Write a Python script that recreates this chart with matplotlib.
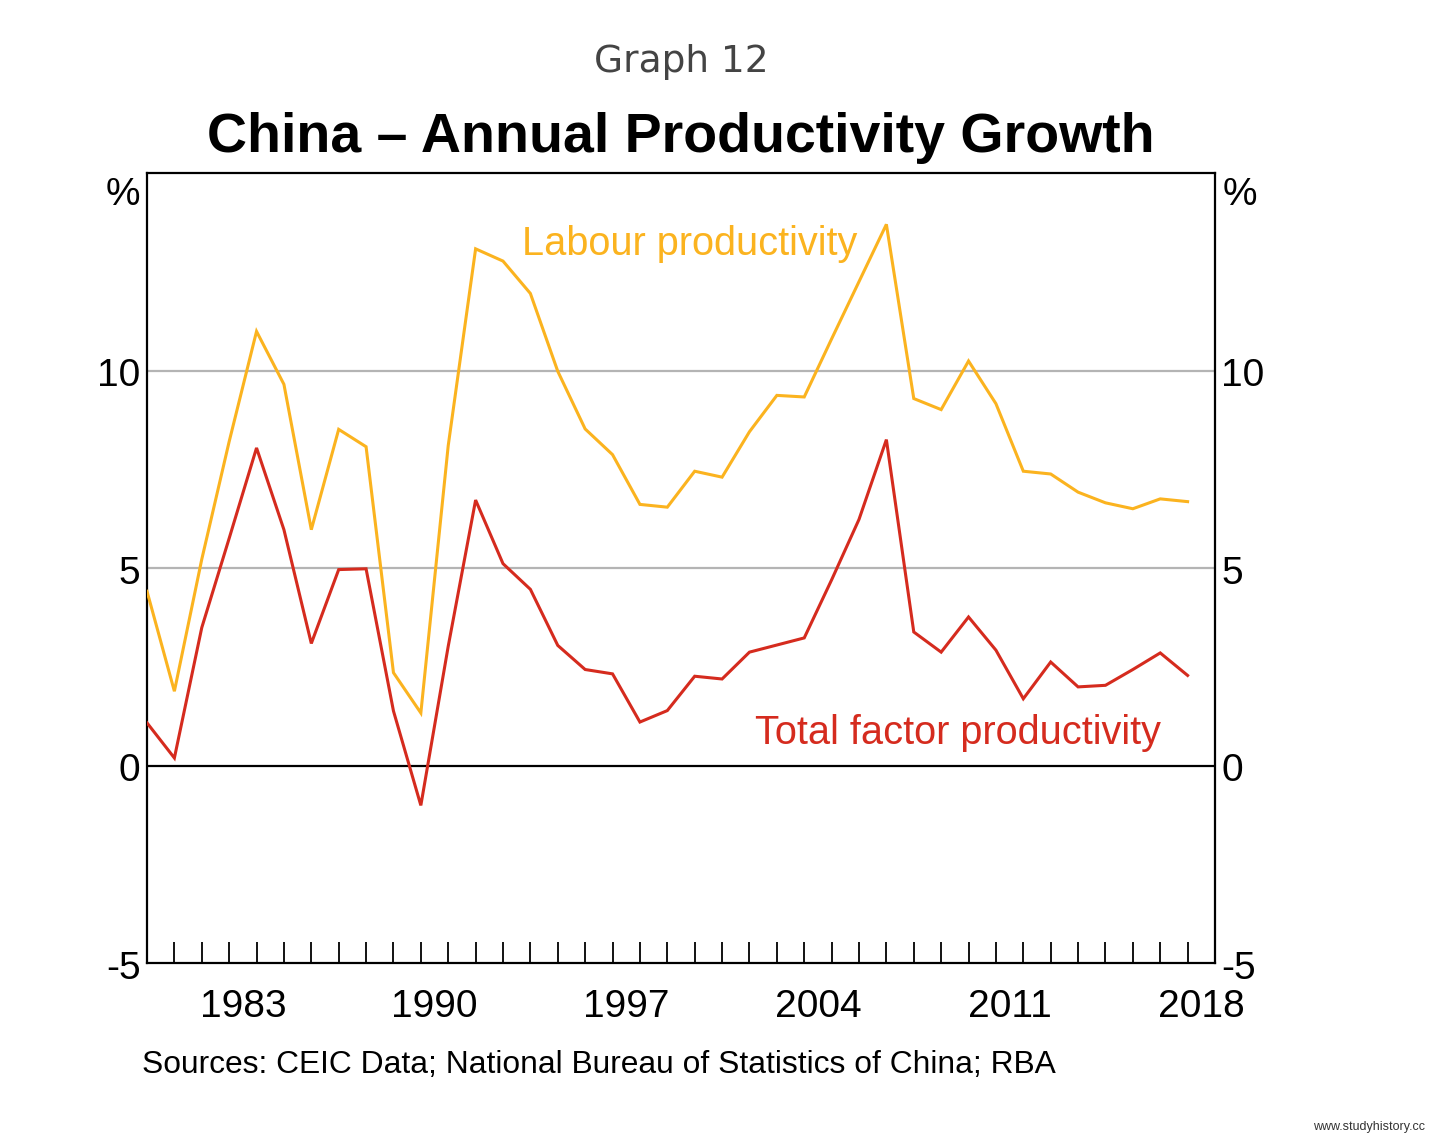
import matplotlib
matplotlib.use("Agg")
import matplotlib.pyplot as plt
import numpy as np

years = list(range(1980, 2019))
labour = [4.41, 1.88, 5.22, 8.2, 10.99, 9.65, 5.97, 8.51, 8.07, 2.35, 1.33,
          8.1, 13.08, 12.77, 11.95, 9.98, 8.52, 7.87, 6.61, 6.54, 7.45,
          7.30, 8.45, 9.37, 9.33, 10.8, 12.25, 13.7, 9.29, 9.01, 10.24,
          9.16, 7.45, 7.38, 6.92, 6.65, 6.50, 6.75, 6.68]
tfp = [1.08, 0.19, 3.49, 5.75, 8.04, 5.97, 3.09, 4.96, 4.98, 1.38, -1.01,
       3.02, 6.72, 5.11, 4.46, 3.04, 2.43, 2.32, 1.10, 1.39, 2.26,
       2.19, 2.87, 3.05, 3.23, 4.7, 6.23, 8.25, 3.38, 2.87, 3.76,
       2.92, 1.69, 2.62, 1.99, 2.03, 2.43, 2.85, 2.28]
year_labels = [1983, 1990, 1997, 2004, 2011, 2018]
y_ticks = [-5, 0, 5, 10]

ORANGE = "#FBB31F"
RED = "#D52B1E"

plt.rcParams['font.family'] = ['Liberation Sans', 'DejaVu Sans']

fig = plt.figure(figsize=(14.4, 11.36), dpi=100)
ax = fig.add_axes([147/1440, 1-963/1136, (1215-147)/1440, (963-173)/1136])

ax.set_xlim(1980, 2019)
ax.set_ylim(-5, 15)

for v in [5, 10]:
    ax.axhline(v, color="#B4B4B4", lw=1.6, zorder=1)
ax.axhline(0, color="black", lw=1.6, zorder=1)

ax.plot(years, labour, color=ORANGE, lw=2.2, zorder=3, solid_joinstyle='miter')
ax.plot(years, tfp, color=RED, lw=2.2, zorder=3, solid_joinstyle='miter')

for s in ax.spines.values():
    s.set_color("black")
    s.set_linewidth(1.6)

# x ticks at year boundaries (inward), labels at mid-year
ax.set_xticks(np.arange(1981, 2019))
ax.tick_params(axis='x', direction='in', length=15, width=1.3, labelbottom=False)
ax.set_yticks([])
for y in year_labels:
    ax.text(y + 0.5, -0.0555, str(y), transform=ax.get_xaxis_transform(),
            ha='center', va='center', fontsize=28)

for v in y_ticks:
    ax.text(-0.006, v - 0.15, str(v), transform=ax.get_yaxis_transform(),
            ha='right', va='center', fontsize=28)
    ax.text(1.006, v - 0.15, str(v), transform=ax.get_yaxis_transform(),
            ha='left', va='center', fontsize=28)
ax.text(-0.023, 14.45, "%", transform=ax.get_yaxis_transform(),
        ha='center', va='center', fontsize=28)
ax.text(1.023, 14.45, "%", transform=ax.get_yaxis_transform(),
        ha='center', va='center', fontsize=28)

ax.text(1999.8, 13.2, "Labour productivity", color=ORANGE, fontsize=28.6,
        ha='center', va='center')
ax.text(2009.6, 0.82, "Total factor productivity", color=RED, fontsize=28.6,
        ha='center', va='center')

fig.text(681/1440, 1-62/1136, "Graph 12", ha='center', va='center',
         fontsize=27, color="#444444", family=['DejaVu Sans'])
fig.text(681/1440, 1-138/1136, "China – Annual Productivity Growth",
         ha='center', va='center', fontsize=40, fontweight='bold')
fig.text(142/1440, 1-1065/1136,
         "Sources: CEIC Data; National Bureau of Statistics of China; RBA",
         ha='left', va='center', fontsize=22.9)
fig.text(1425/1440, 1-1127/1136, "www.studyhistory.cc", ha='right',
         va='center', fontsize=9, color="#333333")

fig.savefig("out.png", dpi=100)
